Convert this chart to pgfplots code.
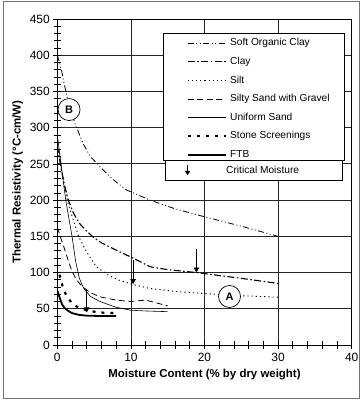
\documentclass[border=0pt]{standalone}
\usepackage{pgfplots}
\pgfplotsset{compat=1.18}
\usepackage{fontspec}
\setmainfont{Liberation Sans}
\usetikzlibrary{arrows.meta}
\begin{document}
\begin{tikzpicture}
\path[use as bounding box] (-57.3bp,-56bp) rectangle (305.7bp,345bp);
\draw[black!55, line width=1.3bp] (-54bp,-53.5bp) rectangle (302bp,343.3bp);
\begin{axis}[
  at={(0,0)}, anchor=south west,
  scale only axis, width=294.4bp, height=326bp,
  xmin=0, xmax=40, ymin=0, ymax=450,
  xtick={0,10,...,40}, ytick={0,50,...,450},
  minor x tick num=4, minor y tick num=4,
  tick pos=left, tick align=center,
  major tick length=8bp, minor tick length=7bp,
  every tick/.style={black, line width=0.7bp},
  xmajorgrids, ymajorgrids,
  major grid style={black!85, line width=0.8bp},
  axis line style={black, line width=0.9bp},
  /pgf/number format/assume math mode=true,
  ticklabel style={font=\fontsize{12}{14}\selectfont},
  xticklabel style={yshift=-1bp},
  xlabel={Moisture Content (\% by dry weight)},
  ylabel={Thermal Resistivity (°C-cm/W)},
  label style={font=\fontsize{11.5}{13}\selectfont\bfseries},
  legend image code/.code={\draw[#1] (0bp,0bp) -- (38bp,0bp);},
  legend style={at={(axis cs:17.12,427)}, anchor=north west, draw=none, fill=none,
    nodes={inner sep=0.5bp, text height=7.5bp, text depth=2bp, font=\fontsize{10.2}{12}\selectfont},
    row sep=8.1bp, column sep=3bp},
  legend cell align=left,
]
% Soft Organic Clay
\addplot[black, line width=0.8bp, dash pattern=on 6bp off 2.5bp on 1bp off 2.5bp on 1bp off 2.5bp] coordinates {
(0,400) (0.3,390) (0.6,378) (0.9,362) (1.6,330) (2.4,306) (3.5,278) (4.5,260) (5.8,246) (7.5,229) (9.4,214) (12.6,200) (16,188) (20,177) (25,164) (30,150)};
\addlegendentry{Soft Organic Clay}
% Clay
\addplot[black, line width=1.1bp, dash pattern=on 7bp off 2.5bp on 1.5bp off 2.5bp] coordinates {
(0,275) (0.5,245) (1,220) (1.5,200) (2.2,182) (3,168) (4,157) (5,148) (6,141) (7.2,135) (8.8,127) (10.3,120) (12.6,108) (15,104) (18.9,100) (25,92) (30,85)};
\addlegendentry{Clay}
% Silt
\addplot[black, line width=0.9bp, dash pattern=on 1.2bp off 3bp] coordinates {
(0.3,265) (0.8,225) (1.4,198) (2,178) (2.9,150) (4,128) (5.3,108) (7,96) (8.5,89) (10.1,84) (12.6,78) (16,74) (20,71) (25,68) (30,66)};
\addlegendentry{Silt}
% Silty Sand with Gravel
\addplot[black, line width=0.8bp, dash pattern=on 6bp off 3.5bp] coordinates {
(0,162) (0.5,147) (1,132) (1.5,116) (2,102) (2.5,92) (3,85) (3.6,79) (4.5,72) (6,66) (8,62) (10,60) (12,62) (13.5,58) (15,54)};
\addlegendentry{Silty Sand with Gravel}
% Uniform Sand
\addplot[black, line width=0.6bp] coordinates {
(0,290) (0.5,250) (1.15,200) (2,150) (2.5,115) (3,92) (3.6,78) (4.5,67) (5.8,60) (8,52) (10,48) (12,47) (15,46)};
\addlegendentry{Uniform Sand}
% Stone Screenings
\addplot[black, line width=2.2bp, dash pattern=on 3bp off 6bp] coordinates {
(0.3,97) (0.7,82) (1.1,71) (2,57) (3,51) (4,48) (5.5,45) (7.7,44)};
\addlegendentry{Stone Screenings}
% FTB
\addplot[black, line width=1.8bp] coordinates {
(0,75) (0.3,66) (0.65,56) (1,51) (1.5,47) (2,44) (3,41.5) (4,40.5) (6,40) (8,40)};
\addlegendentry{FTB}
% critical moisture arrows
\draw[black, line width=0.8bp, -{Triangle[width=5.5bp,length=5bp]}] (axis cs:18.9,132) -- (axis cs:18.9,100);
\draw[black, line width=0.8bp, -{Triangle[width=5.5bp,length=5bp]}] (axis cs:10.3,117) -- (axis cs:10.3,84);
\draw[black, line width=0.8bp, -{Triangle[width=5.5bp,length=5bp]}] (axis cs:4,77) -- (axis cs:4,45);
% circles
\node[circle, draw=black, line width=0.7bp, fill=white, minimum size=22bp, inner sep=0pt, font=\fontsize{11}{13}\selectfont\bfseries] at (axis cs:1.6,325) {B};
\node[circle, draw=black, line width=0.7bp, fill=white, minimum size=22bp, inner sep=0pt, font=\fontsize{11}{13}\selectfont\bfseries] at (axis cs:23.4,67) {A};
% legend boxes
\draw[black, line width=0.9bp, fill=white] (axis cs:14.36,430.7) rectangle (axis cs:38.96,255.4);
\draw[black, line width=0.9bp, fill=white] (axis cs:14.63,255.4) rectangle (axis cs:38.8,227.8);
\draw[black, line width=0.8bp, -{Triangle[width=5bp,length=4.5bp]}] (axis cs:17.7,248) -- (axis cs:17.7,234);
\node[font=\fontsize{10.2}{12}\selectfont] at (axis cs:27.9,241.6) {Critical Moisture};
\end{axis}
\end{tikzpicture}
\end{document}
